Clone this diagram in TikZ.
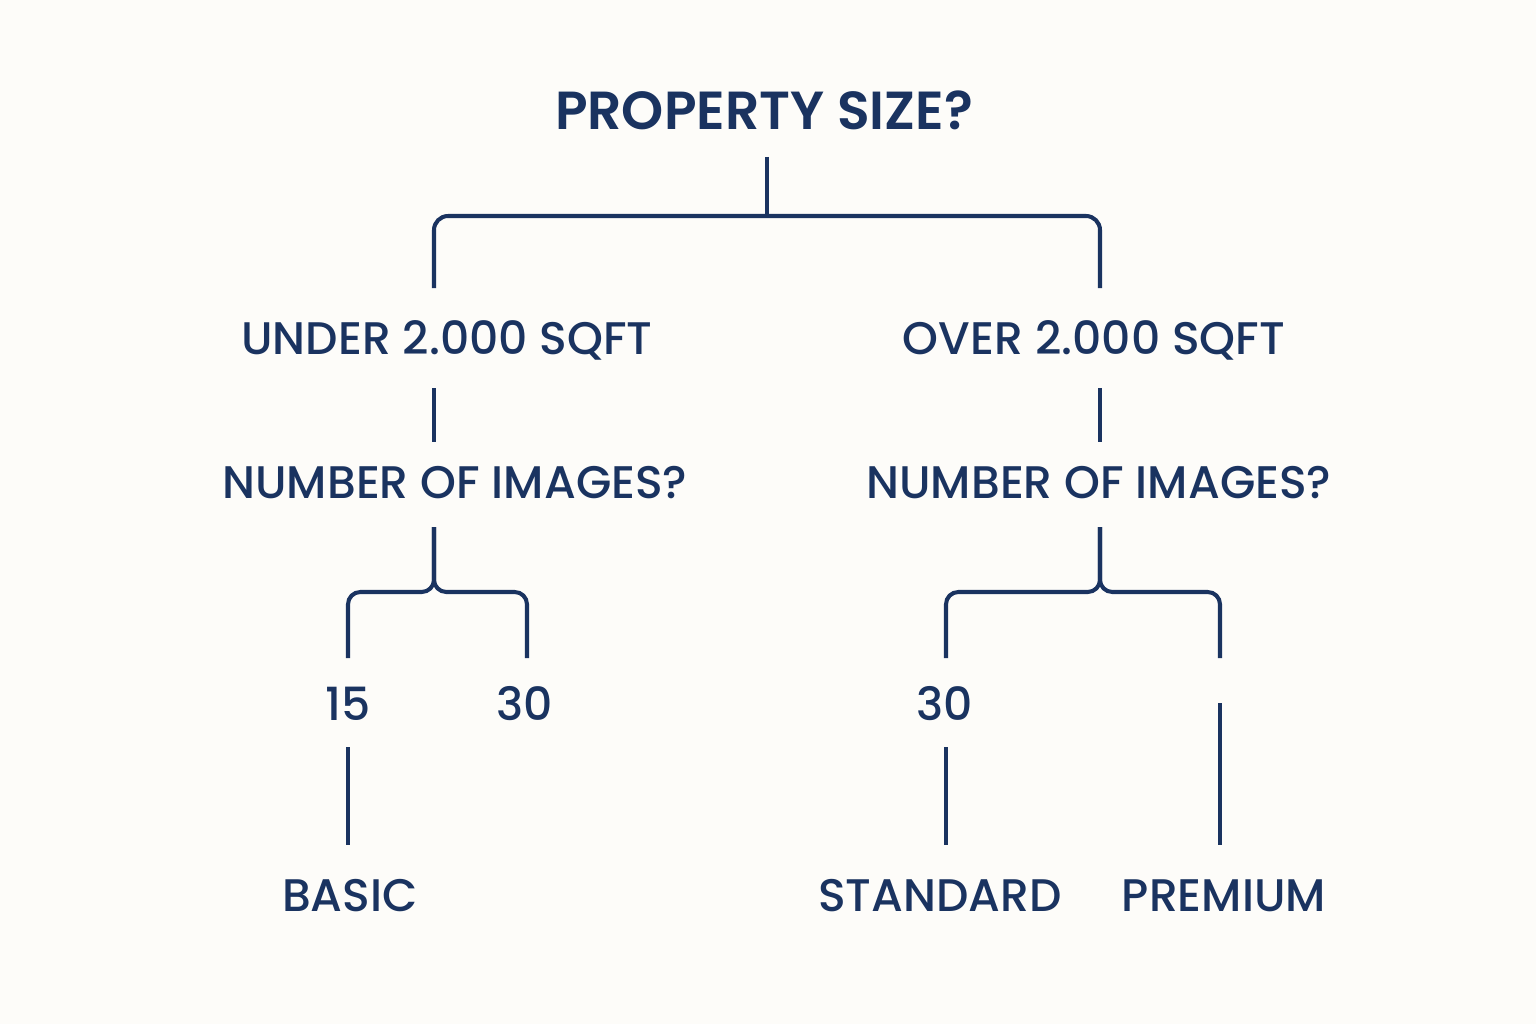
\documentclass[tikz,border=0pt]{standalone}
\usepackage{fontspec}
\setmainfont{Poppins}[UprightFont=* Medium, BoldFont=* SemiBold]
\usetikzlibrary{positioning}
\definecolor{navy}{HTML}{1A3360}
\definecolor{paper}{HTML}{FDFCF9}
\tikzset{
	lbl/.style={text=navy, font=\fontsize{26}{29}\selectfont, inner sep=0pt},
	ttl/.style={text=navy, font=\fontsize{30.5}{33}\selectfont\bfseries, inner sep=0pt},
	wire/.style={draw=navy, line width=2.3pt}
}

\begin{document}
\begin{tikzpicture}[x=0.02cm, y=-0.02cm]
	\fill [paper] (0,0) rectangle (1536,1024);
	\useasboundingbox (0,0) rectangle (1536,1024);
	% labels
	\node [ttl] (size) at (764,110) {PROPERTY SIZE?};
	\node [lbl] (under) at (447,340) {UNDER 2.000 SQFT};
	\node [lbl] (over) at (1094,340) {OVER 2.000 SQFT};
	\node [lbl] (numL) at (455,483) {NUMBER OF IMAGES?};
	\node [lbl] (numR) at (1099,483) {NUMBER OF IMAGES?};
	\node [lbl] (fifteen) at (348,704) {15};
	\node [lbl] (thirtyL) at (525,704) {30};
	\node [lbl] (thirtyR) at (945,704) {30};
	\node [lbl] (basic) at (350,896) {BASIC};
	\node [lbl] (standard) at (940,896) {STANDARD};
	\node [lbl] (premium) at (1224,896) {PREMIUM};
	% line ends
	\coordinate (s0) at (767,157);
	\coordinate (s1) at (767,216);
	\coordinate (u0) at (434,288);
	\coordinate (o0) at (1100,288);
	\coordinate (u1) at (434,388);
	\coordinate (u2) at (434,442);
	\coordinate (o1) at (1100,388);
	\coordinate (o2) at (1100,442);
	\coordinate (nl0) at (434,527);
	\coordinate (nl1) at (434,592);
	\coordinate (nr0) at (1100,527);
	\coordinate (nr1) at (1100,592);
	\coordinate (a0) at (348,658);
	\coordinate (b0) at (527,658);
	\coordinate (c0) at (946,658);
	\coordinate (d0) at (1220,658);
	\coordinate (a1) at (348,747);
	\coordinate (a2) at (348,845);
	\coordinate (c1) at (946,747);
	\coordinate (c2) at (946,845);
	\coordinate (d1) at (1220,703);
	\coordinate (d2) at (1220,845);
	% connectors
	\draw [wire] (s0) -- (s1);
	\draw [wire, rounded corners=8pt] (u0) |- (s1) -| (o0);
	\draw [wire] (u1) -- (u2);
	\draw [wire] (o1) -- (o2);
	\draw [wire, rounded corners=7pt] (a0) |- (nl1) -- (nl0);
	\draw [wire, rounded corners=7pt] (b0) |- (nl1) -- (nl0);
	\draw [wire, rounded corners=7pt] (c0) |- (nr1) -- (nr0);
	\draw [wire, rounded corners=7pt] (d0) |- (nr1) -- (nr0);
	\draw [wire] (a1) -- (a2);
	\draw [wire] (c1) -- (c2);
	\draw [wire] (d1) -- (d2);
\end{tikzpicture}
\end{document}
